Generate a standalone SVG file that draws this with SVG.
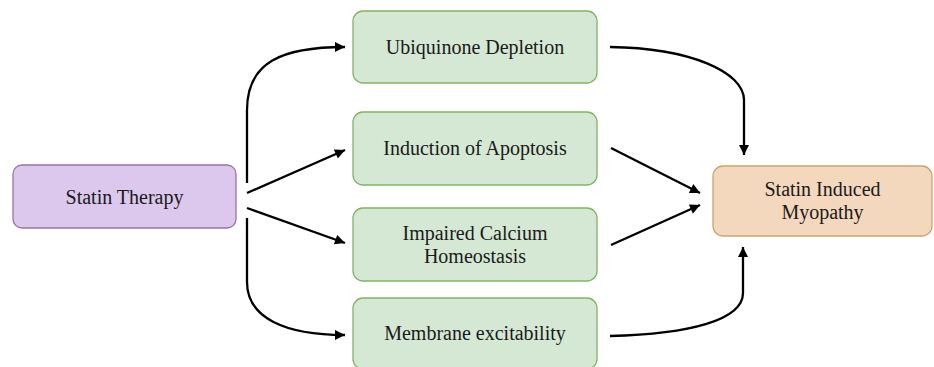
<svg xmlns="http://www.w3.org/2000/svg" width="934" height="367" viewBox="0 0 934 367">
<style>
.box{stroke-width:1.3}
.g{fill:#d5e8d4;stroke:#82b366}
.p{fill:#dcc8ec;stroke:#9673a6}
.o{fill:#f4d8bd;stroke:#c9a56e}
.t{font-family:"Liberation Serif","Times New Roman",serif;font-size:20px;fill:#1a1a1a;text-anchor:middle}
.c{fill:none;stroke:#000;stroke-width:2.3;marker-end:url(#ah)}
</style>
<defs>
<marker id="ah" viewBox="0 0 10 10" refX="10" refY="5" markerWidth="12" markerHeight="10" markerUnits="userSpaceOnUse" orient="auto">
<path d="M0,0 L10,5 L0,10 z" fill="#000"/>
</marker>
</defs>
<rect width="934" height="367" fill="#fff"/>
<g id="connectors">
<path class="c" d="M247,183 L247,110 C247,62 282,47 345,47"/>
<path class="c" d="M247,193 L345,150"/>
<path class="c" d="M247,208 L345,243"/>
<path class="c" d="M247,218 L247,282 C247,318 285,335 345,335"/>
<path class="c" d="M610,47 C690,48 744,72 744,100 L744,155"/>
<path class="c" d="M611,148 L700,193"/>
<path class="c" d="M611,245 L700,205"/>
<path class="c" d="M610,336 C690,334 743,320 743,293 L743,247"/>
</g>
<g id="statin-therapy">
<rect class="box p" x="13" y="165" width="223" height="63" rx="9"/>
<text class="t" x="124.5" y="203.5">Statin Therapy</text>
</g>
<g id="ubiquinone-depletion">
<rect class="box g" x="353" y="11" width="244" height="72" rx="10"/>
<text class="t" x="475" y="54">Ubiquinone Depletion</text>
</g>
<g id="induction-of-apoptosis">
<rect class="box g" x="353" y="112" width="244" height="73" rx="10"/>
<text class="t" x="475" y="155">Induction of Apoptosis</text>
</g>
<g id="impaired-calcium-homeostasis">
<rect class="box g" x="353" y="208" width="244" height="73" rx="10"/>
<text class="t" x="475" y="240">Impaired Calcium</text>
<text class="t" x="475" y="262.5">Homeostasis</text>
</g>
<g id="membrane-excitability">
<rect class="box g" x="353" y="298" width="244" height="71" rx="10"/>
<text class="t" x="475" y="340">Membrane excitability</text>
</g>
<g id="statin-induced-myopathy">
<rect class="box o" x="713" y="166" width="219" height="70" rx="10"/>
<text class="t" x="822.5" y="196">Statin Induced</text>
<text class="t" x="822.5" y="218.5">Myopathy</text>
</g>
</svg>
